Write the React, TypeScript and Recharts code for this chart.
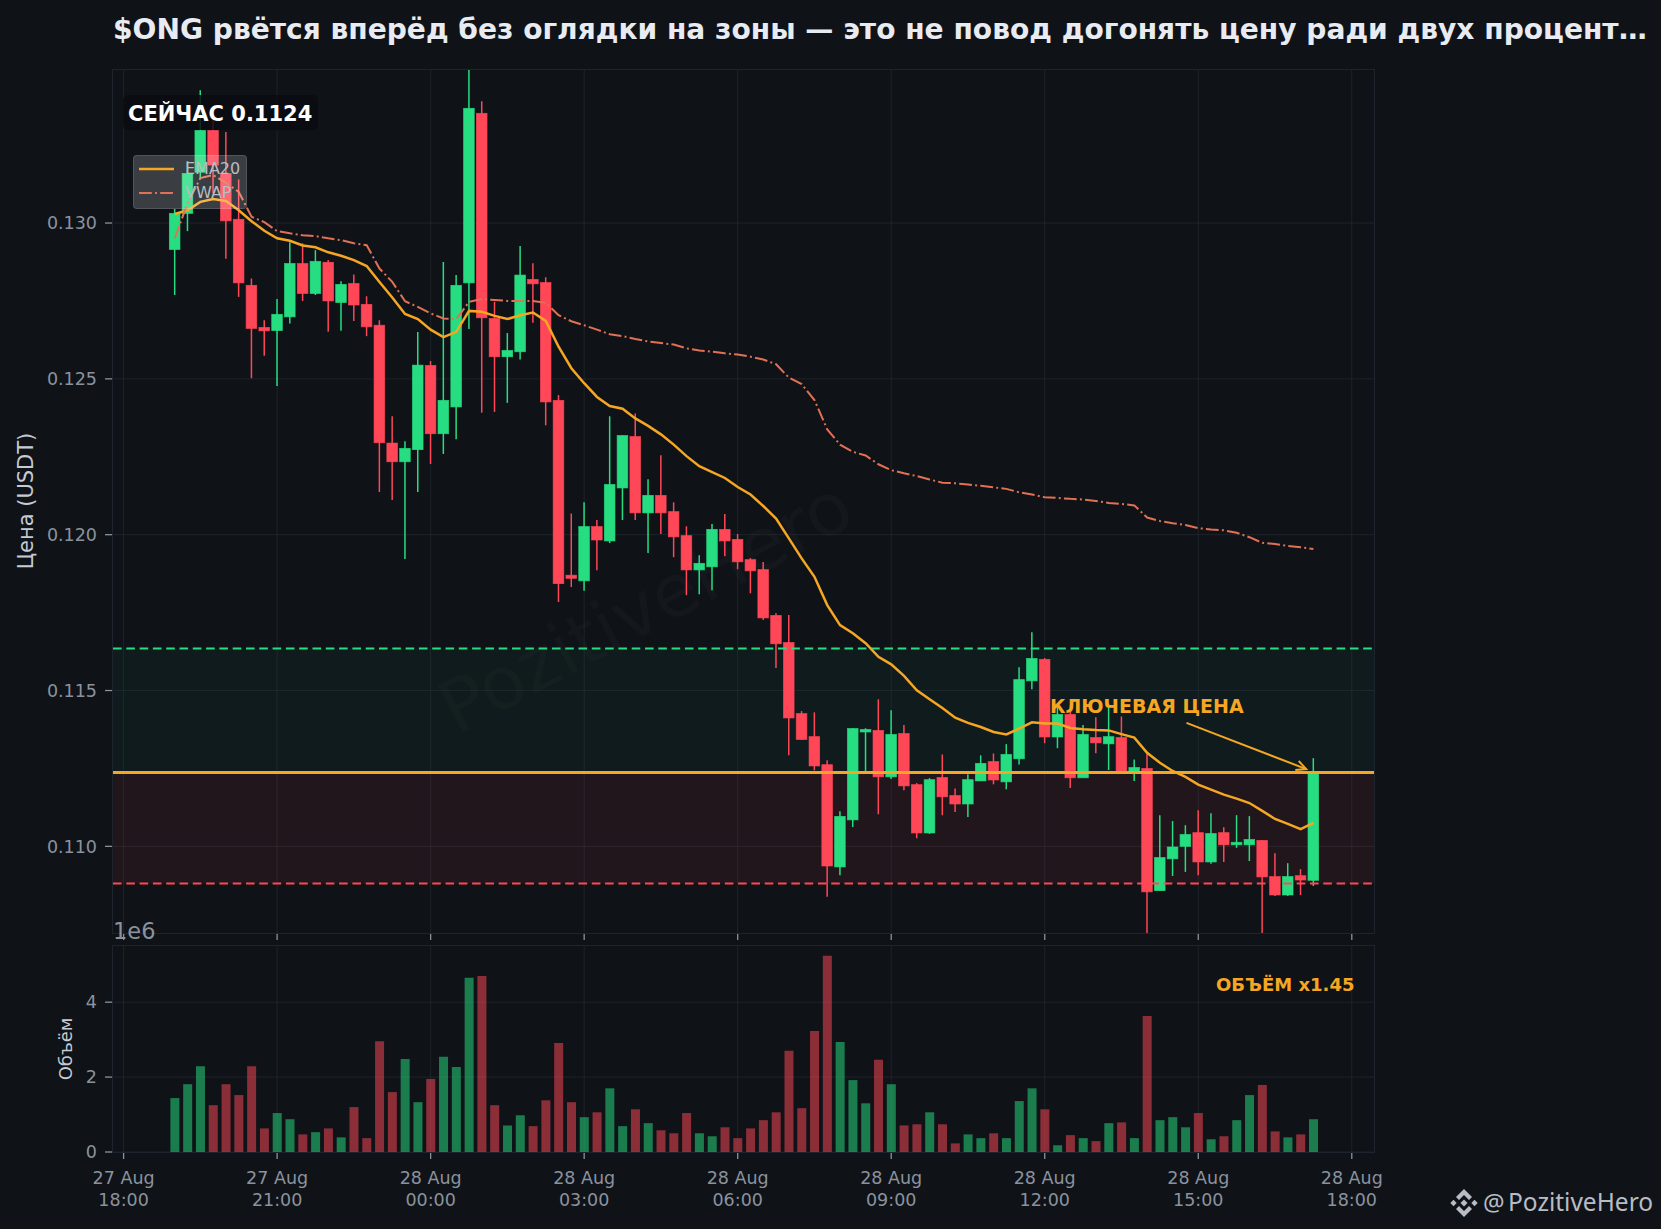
import {
  Bar,
  CartesianGrid,
  Cell,
  ComposedChart,
  Line,
  ReferenceArea,
  ReferenceLine,
  XAxis,
  YAxis,
} from 'recharts'

// hours since 27 Aug 18:00, one candle per 15 min
const hours = [
  1, 1.25, 1.5, 1.75, 2, 2.25, 2.5, 2.75, 3, 3.25, 3.5, 3.75, 4, 4.25, 4.5, 4.75, 5, 5.25, 5.5, 5.75,
  6, 6.25, 6.5, 6.75, 7, 7.25, 7.5, 7.75, 8, 8.25, 8.5, 8.75, 9, 9.25, 9.5, 9.75, 10, 10.25, 10.5, 10.75,
  11, 11.25, 11.5, 11.75, 12, 12.25, 12.5, 12.75, 13, 13.25, 13.5, 13.75, 14, 14.25, 14.5, 14.75,
  15, 15.25, 15.5, 15.75, 16, 16.25, 16.5, 16.75, 17, 17.25, 17.5, 17.75, 18, 18.25, 18.5, 18.75,
  19, 19.25, 19.5, 19.75, 20, 20.25, 20.5, 20.75, 21, 21.25, 21.5, 21.75, 22, 22.25, 22.5, 22.75, 23, 23.25,
]

// prices in 1e-5 USDT
const opens = [
  12915, 13031, 13163, 13297, 13159, 13012, 12800, 12665, 12655, 12699, 12870, 12774, 12874, 12745, 12806,
  12739, 12672, 12294, 12234, 12273, 12543, 12324, 12410, 12808, 13352, 12694, 12571, 12587, 12819, 12809,
  12431, 11870, 11852, 12026, 11980, 12150, 12315, 12070, 12126, 12074, 11997, 11887, 11897, 12017, 11985,
  11920, 11888, 11741, 11654, 11426, 11352, 11262, 10934, 11085, 11367, 11372, 11223, 11362, 11198, 11043,
  11221, 11163, 11136, 11210, 11272, 11207, 11281, 11531, 11600, 11351, 11423, 11220, 11349, 11329, 11349,
  11236, 11250, 10858, 10960, 11000, 11044, 10950, 11044, 11005, 11005, 11019, 10903, 10844, 10906, 10891,
]
const closes = [
  13031, 13159, 13297, 13186, 13007, 12808, 12662, 12654, 12707, 12870, 12774, 12877, 12750, 12803, 12737,
  12667, 12295, 12234, 12277, 12544, 12324, 12431, 12800, 13368, 12696, 12571, 12591, 12833, 12805, 12426,
  11843, 11860, 12026, 11983, 12161, 12318, 12070, 12126, 12070, 11993, 11887, 11908, 12017, 11980, 11913,
  11884, 11733, 11650, 11412, 11343, 11258, 10937, 11096, 11378, 11375, 11223, 11359, 11194, 11043, 11214,
  11159, 11136, 11214, 11266, 11213, 11295, 11535, 11603, 11351, 11423, 11220, 11359, 11332, 11352, 11237,
  11253, 10854, 10964, 10998, 11038, 10950, 11041, 11005, 11013, 11022, 10902, 10844, 10903, 10892, 11237,
]
const highs = [
  13045, 13199, 13426, 13330, 13292, 13140, 12822, 12688, 12756, 12938, 12935, 12913, 12881, 12813, 12835,
  12765, 12688, 12380, 12300, 12650, 12557, 12875, 12833, 13520, 13391, 12747, 12647, 12926, 12871, 12826,
  12448, 12068, 12104, 12047, 12380, 12319, 12389, 12178, 12255, 12104, 12027, 11934, 12034, 12066, 12002,
  11925, 11912, 11748, 11742, 11434, 11430, 11276, 11113, 11379, 11379, 11472, 11437, 11389, 11203, 11219,
  11295, 11186, 11231, 11292, 11298, 11328, 11575, 11687, 11604, 11453, 11437, 11389, 11414, 11452, 11417,
  11279, 11299, 11100, 11081, 11068, 11116, 11106, 11061, 11100, 11097, 11020, 10978, 10946, 10927, 11283,
]
const lows = [
  12769, 12974, 13144, 13096, 12885, 12763, 12502, 12574, 12477, 12678, 12750, 12769, 12651, 12654, 12686,
  12637, 12137, 12111, 11922, 12137, 12227, 12259, 12306, 12660, 12391, 12394, 12423, 12562, 12680, 12351,
  11784, 11832, 11820, 11886, 11973, 12047, 12047, 11941, 12002, 11928, 11806, 11809, 11822, 11931, 11889,
  11812, 11726, 11572, 11292, 11341, 11244, 10838, 10907, 11062, 11239, 11103, 11216, 11180, 11026, 11040,
  11100, 11110, 11094, 11210, 11199, 11183, 11263, 11504, 11331, 11315, 11187, 11220, 11299, 11245, 11237,
  11210, 10700, 10858, 10905, 10918, 10907, 10944, 10950, 10995, 10953, 10700, 10841, 10841, 10844, 10873,
]
const ema20 = [
  13029, 13041, 13068, 13077, 13071, 13041, 13006, 12975, 12951, 12943, 12928, 12922, 12906, 12895, 12881,
  12862, 12811, 12761, 12708, 12692, 12658, 12634, 12651, 12718, 12715, 12702, 12692, 12704, 12713, 12686,
  12603, 12534, 12486, 12442, 12413, 12404, 12373, 12349, 12322, 12289, 12252, 12220, 12201, 12182, 12153,
  12129, 12092, 12052, 11988, 11924, 11865, 11774, 11710, 11684, 11652, 11608, 11584, 11547, 11501, 11472,
  11444, 11413, 11396, 11383, 11367, 11359, 11378, 11398, 11394, 11394, 11380, 11376, 11373, 11372, 11360,
  11349, 11300, 11268, 11242, 11223, 11198, 11182, 11166, 11153, 11139, 11114, 11088, 11072, 11055, 11075,
]
const vwap = [
  12951, 13064, 13144, 13154, 13129, 13100, 13020, 13003, 12974, 12967, 12961, 12958, 12951, 12945, 12935,
  12929, 12854, 12811, 12749, 12731, 12710, 12694, 12691, 12747, 12756, 12753, 12750, 12750, 12750, 12744,
  12704, 12685, 12672, 12658, 12643, 12637, 12628, 12620, 12615, 12610, 12598, 12591, 12587, 12582, 12578,
  12571, 12562, 12547, 12504, 12483, 12432, 12338, 12289, 12266, 12254, 12226, 12207, 12197, 12188, 12177,
  12167, 12165, 12161, 12157, 12152, 12147, 12136, 12129, 12120, 12118, 12115, 12113, 12108, 12102, 12099,
  12094, 12055, 12044, 12037, 12031, 12021, 12017, 12014, 12006, 11992, 11974, 11970, 11964, 11960, 11954,
]
// volume in millions
const volumes = [
  1.44, 1.81, 2.29, 1.25, 1.81, 1.52, 2.29, 0.63, 1.04, 0.875, 0.47, 0.53, 0.63, 0.39, 1.2,
  0.37, 2.96, 1.6, 2.48, 1.33, 1.95, 2.54, 2.27, 4.65, 4.7, 1.25, 0.71, 0.98, 0.69, 1.38,
  2.91, 1.33, 0.93, 1.06, 1.7, 0.69, 1.14, 0.77, 0.58, 0.5, 1.04, 0.5, 0.42, 0.66, 0.37,
  0.63, 0.85, 1.06, 2.7, 1.17, 3.23, 5.24, 2.94, 1.92, 1.3, 2.46, 1.81, 0.71, 0.74, 1.06,
  0.74, 0.23, 0.47, 0.37, 0.5, 0.37, 1.36, 1.7, 1.14, 0.18, 0.45, 0.37, 0.29, 0.77, 0.79,
  0.37, 3.63, 0.85, 0.93, 0.66, 1.04, 0.34, 0.42, 0.85, 1.52, 1.79, 0.55, 0.39, 0.47, 0.875,
]

const xTicks = [0, 3, 6, 9, 12, 15, 18, 21, 24]
const xTickDates = ['27 Aug', '27 Aug', '28 Aug', '28 Aug', '28 Aug', '28 Aug', '28 Aug', '28 Aug', '28 Aug']
const xTickTimes = ['18:00', '21:00', '00:00', '03:00', '06:00', '09:00', '12:00', '15:00', '18:00']
const priceTicks = [0.11, 0.115, 0.12, 0.125, 0.13]
const volumeTicks = [0, 2, 4]

const resistance = 0.11635
const keyPrice = 0.11237
const support = 0.10881
const arrowFrom = { x: 20.77, y: 0.11396 }
const arrowTo = { x: 23.11, y: 0.11248 }

const BG = '#0f1318'
const GREEN = '#26de81'
const RED = '#ff4757'
const ORANGE = '#f5a623'
const VWAP_COLOR = '#e17055'
const MUTED = '#8b929e'
const GRID = 'rgba(44,48,56,0.55)'
const FONT = '"DejaVu Sans", sans-serif'
const xDomain: [number, number] = [-0.207, 24.434]

const PLOT_LEFT = 113
const PLOT_WIDTH = 1261

const candles = hours.map((h, i) => ({
  h,
  open: opens[i] / 1e5,
  close: closes[i] / 1e5,
  high: highs[i] / 1e5,
  low: lows[i] / 1e5,
  wick: [lows[i] / 1e5, highs[i] / 1e5],
  ema: ema20[i] / 1e5,
  vwap: vwap[i] / 1e5,
  volume: volumes[i],
}))

function CandleShape(props: any) {
  const { x, y, width, height, payload } = props
  const color = payload.close >= payload.open ? GREEN : RED
  const range = payload.high - payload.low
  const top = Math.max(payload.open, payload.close)
  const bottom = Math.min(payload.open, payload.close)
  const bodyY = y + ((payload.high - top) / range) * height
  const bodyH = ((top - bottom) / range) * height
  const cx = x + width / 2
  return (
    <g>
      <line x1={cx} x2={cx} y1={y} y2={y + height} stroke={color} strokeWidth={1.5} />
      <rect x={x} y={bodyY} width={width} height={Math.max(bodyH, 1)} fill={color} stroke={color} strokeOpacity={0.8} strokeWidth={0.8} />
    </g>
  )
}

function ArrowShape(props: any) {
  const { x1, y1, x2, y2 } = props
  const a = Math.atan2(y2 - y1, x2 - x1)
  const head = 11
  const spread = 0.45
  const hx = (s: number) => x2 - head * Math.cos(a + s * spread)
  const hy = (s: number) => y2 - head * Math.sin(a + s * spread)
  return (
    <g stroke={ORANGE} strokeWidth={2} fill="none">
      <line x1={x1} y1={y1} x2={x2} y2={y2} />
      <polyline points={`${hx(1)},${hy(1)} ${x2},${y2} ${hx(-1)},${hy(-1)}`} />
    </g>
  )
}

function TwoLineTick(props: any) {
  const { x, y, index } = props
  return (
    <text x={x} y={y} textAnchor="middle" fill={MUTED} fontSize={17.5} fontFamily={FONT}>
      <tspan x={x} dy={23}>{xTickDates[index]}</tspan>
      <tspan x={x} dy={22}>{xTickTimes[index]}</tspan>
    </text>
  )
}

const tickStyle = { fill: MUTED, fontSize: 17.5, fontFamily: FONT }
const tickLine = { stroke: MUTED, strokeWidth: 1.3 }

function Panel({ top, height }: { top: number; height: number }) {
  return (
    <div
      style={{
        position: 'absolute',
        left: PLOT_LEFT - 1,
        top: top - 1,
        width: PLOT_WIDTH + 2,
        height: height + 2,
        boxSizing: 'border-box',
        border: '1.5px solid #1e242d',
      }}
    />
  )
}

function Txt({ style, children }: { style: React.CSSProperties; children: React.ReactNode }) {
  return <div style={{ position: 'absolute', whiteSpace: 'nowrap', fontFamily: FONT, lineHeight: 1, ...style }}>{children}</div>
}

export default function App() {
  return (
    <div style={{ position: 'fixed', left: 0, top: 0, width: 1661, height: 1229, background: BG, overflow: 'hidden' }}>
      <Txt
        style={{
          left: 418,
          top: 570,
          fontSize: 73,
          color: 'rgba(255,255,255,0.022)',
          transform: 'rotate(-28deg)',
        }}
      >
        PozitiveHero
      </Txt>

      <div style={{ position: 'absolute', left: 0, top: 0 }}>
        <ComposedChart width={1661} height={945} data={candles} margin={{ top: 70, right: 287, bottom: 0, left: 0 }}>
          <ReferenceArea y1={keyPrice} y2={resistance} fill={GREEN} fillOpacity={0.04} stroke="none" />
          <ReferenceArea y1={support} y2={keyPrice} fill={RED} fillOpacity={0.075} stroke="none" />
          <XAxis
            dataKey="h"
            type="number"
            domain={xDomain}
            allowDataOverflow
            ticks={xTicks}
            interval={0}
            height={12}
            axisLine={false}
            tickSize={7}
            tickLine={tickLine}
            tickFormatter={() => ''}
          />
          <YAxis
            type="number"
            domain={[0.10722, 0.13491]}
            allowDataOverflow
            ticks={priceTicks}
            interval={0}
            width={113}
            axisLine={false}
            tickSize={8}
            tickMargin={8}
            tickLine={tickLine}
            tick={tickStyle}
            tickFormatter={(v: number) => v.toFixed(3)}
          />
          <Bar dataKey="wick" barSize={10.6} shape={<CandleShape />} isAnimationActive={false} />
          <CartesianGrid stroke={GRID} strokeWidth={1} verticalValues={xTicks} horizontalValues={priceTicks} />
          <ReferenceLine y={resistance} stroke={GREEN} strokeWidth={2} strokeDasharray="8.6 4.7" />
          <ReferenceLine y={support} stroke={RED} strokeWidth={2} strokeDasharray="8.6 4.7" />
          <ReferenceLine y={keyPrice} stroke={ORANGE} strokeWidth={3} />
          <Line dataKey="ema" stroke={ORANGE} strokeWidth={2.5} dot={false} isAnimationActive={false} />
          <Line dataKey="vwap" stroke={VWAP_COLOR} strokeWidth={2} strokeDasharray="12.8 3.2 2 3.2" dot={false} isAnimationActive={false} />
          <ReferenceLine segment={[arrowFrom, arrowTo]} shape={ArrowShape} />
        </ComposedChart>
      </div>

      <div style={{ position: 'absolute', left: 0, top: 0 }}>
        <ComposedChart width={1661} height={1229} data={candles} margin={{ top: 946, right: 287, bottom: 0, left: 0 }}>
          <XAxis
            dataKey="h"
            type="number"
            domain={xDomain}
            allowDataOverflow
            ticks={xTicks}
            interval={0}
            height={77}
            axisLine={false}
            tickSize={7}
            tickLine={tickLine}
            tick={<TwoLineTick />}
          />
          <YAxis
            type="number"
            domain={[0, 5.5]}
            ticks={volumeTicks}
            interval={0}
            width={113}
            axisLine={false}
            tickSize={8}
            tickMargin={8}
            tickLine={tickLine}
            tick={tickStyle}
          />
          <Bar dataKey="volume" barSize={9} isAnimationActive={false}>
            {candles.map((c, i) => (
              <Cell key={i} fill={c.close >= c.open ? GREEN : RED} fillOpacity={0.52} />
            ))}
          </Bar>
          <CartesianGrid stroke={GRID} strokeWidth={1} verticalValues={xTicks} horizontalValues={volumeTicks} />
        </ComposedChart>
      </div>

      <Panel top={70} height={863} />
      <Panel top={946} height={206} />

      <Txt style={{ left: 113, top: 16, fontSize: 28.1, fontWeight: 700, color: '#e8ecf2' }}>
        $ONG рвётся вперёд без оглядки на зоны — это не повод догонять цену ради двух процент…
      </Txt>

      <Txt
        style={{
          left: 26,
          top: 501,
          fontSize: 21,
          color: '#c6cad1',
          transform: 'translate(-50%, -50%) rotate(-90deg)',
        }}
      >
        Цена (USDT)
      </Txt>
      <Txt
        style={{
          left: 66,
          top: 1049,
          fontSize: 18,
          color: '#c6cad1',
          transform: 'translate(-50%, -50%) rotate(-90deg)',
        }}
      >
        Объём
      </Txt>
      <Txt style={{ left: 113, top: 920, fontSize: 22.5, color: MUTED }}>1e6</Txt>

      <div
        style={{
          position: 'absolute',
          left: 123,
          top: 95,
          width: 195,
          height: 35,
          borderRadius: 5,
          background: 'rgba(10,12,16,0.85)',
        }}
      />
      <Txt style={{ left: 128, top: 104, fontSize: 21, fontWeight: 700, color: '#ffffff' }}>СЕЙЧАС 0.1124</Txt>

      <div
        style={{
          position: 'absolute',
          left: 133,
          top: 155,
          width: 114,
          height: 54,
          boxSizing: 'border-box',
          borderRadius: 4,
          background: 'rgba(255,255,255,0.18)',
          border: '1px solid rgba(255,255,255,0.12)',
        }}
      />
      <svg width={40} height={54} style={{ position: 'absolute', left: 137, top: 155 }}>
        <line x1={2} x2={37} y1={14} y2={14} stroke={ORANGE} strokeWidth={2.5} />
        <line x1={2} x2={37} y1={38} y2={38} stroke={VWAP_COLOR} strokeWidth={2} strokeDasharray="12.8 3.2 2 3.2" />
      </svg>
      <Txt style={{ left: 185, top: 161, fontSize: 16, color: '#b9bcc3' }}>EMA20</Txt>
      <Txt style={{ left: 185, top: 185, fontSize: 16, color: '#b9bcc3' }}>VWAP</Txt>

      <Txt style={{ left: 1050, top: 697, fontSize: 19, fontWeight: 700, color: ORANGE }}>КЛЮЧЕВАЯ ЦЕНА</Txt>
      <Txt style={{ left: 1216, top: 976, fontSize: 18, fontWeight: 700, color: ORANGE }}>ОБЪЁМ x1.45</Txt>

      <svg width={28} height={28} viewBox="0 0 28 28" style={{ position: 'absolute', left: 1450, top: 1189 }}>
        <g fill="#b8bcc4">
          <polygon points="14,0 22,8 19,11 14,6 9,11 6,8" />
          <polygon points="14,28 22,20 19,17 14,22 9,17 6,20" />
          <polygon points="3.5,10.8 6.7,14 3.5,17.2 0.3,14" />
          <polygon points="24.5,10.8 27.7,14 24.5,17.2 21.3,14" />
          <polygon points="14,10.5 17.5,14 14,17.5 10.5,14" />
        </g>
      </svg>
      <Txt style={{ left: 1483, top: 1190, fontSize: 24, color: '#b8bcc4', fontFamily: '"Noto Sans", sans-serif' }}>@</Txt>
      <Txt style={{ left: 1508, top: 1190, fontSize: 24.5, color: '#b8bcc4', fontFamily: '"Noto Sans", sans-serif' }}>PozitiveHero</Txt>
    </div>
  )
}
